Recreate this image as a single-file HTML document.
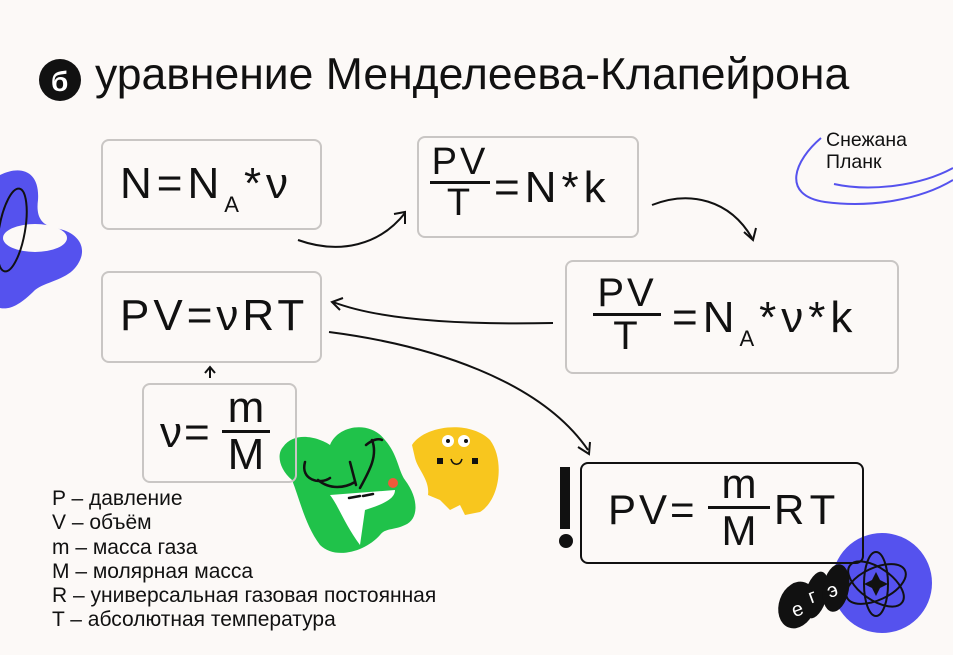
<!DOCTYPE html>
<html><head><meta charset="utf-8"><style>
body{margin:0;background:#fcf9f7;}
#c{position:relative;width:953px;height:655px;overflow:hidden;background:#fcf9f7;font-family:"Liberation Sans","DejaVu Sans",sans-serif;color:#111;}
.b{position:absolute;border:2.5px solid #c9c6c4;border-radius:8px;box-sizing:border-box;}
.t{position:absolute;white-space:nowrap;}
.f{position:absolute;white-space:nowrap;text-align:center;}
.f div:first-child{border-bottom:3px solid #111;}
sub{font-size:22px;vertical-align:-14px;}
</style></head><body><div id="c">
<svg width="953" height="655" style="position:absolute;left:0;top:0">
<path d="M0,175 C20,165 40,170 38,200 C36,215 40,225 55,228 C80,232 90,250 75,268 C65,280 45,282 35,290 C20,305 10,310 0,308 Z" fill="#5552ee"/>
<ellipse cx="35" cy="238" rx="32" ry="14" fill="#fcf9f7"/>
<ellipse cx="12" cy="230" rx="13" ry="42" fill="none" stroke="#111" stroke-width="2" transform="rotate(10 12 230)"/>
<g fill="none" stroke="#5552ee" stroke-width="2">
<path d="M821,138 C795,160 780,195 825,202 C870,208 920,200 953,180"/>
<path d="M834,184 C870,192 920,186 953,168"/>
</g>
<g fill="none" stroke="#111" stroke-width="2">
<path d="M298,240 C340,255 380,245 405,213"/><path d="M394,214 L405,212 L405,224"/>
<path d="M652,205 C690,190 730,200 752,238"/><path d="M744,232 L753,240 L756,228"/>
<path d="M553,323 C460,325 380,320 333,302"/><path d="M343,298 L332,302 L340,310"/>
<path d="M329,332 C430,345 540,380 588,450"/><path d="M578,447 L589,454 L590,442"/>
<path d="M210,378 L210,368"/><path d="M205,373 L210,367 L215,373"/>
</g>
<rect x="560" y="467" width="10" height="62" fill="#111"/>
<circle cx="566" cy="541" r="7" fill="#111"/>
<path d="M283,447 C295,430 320,438 330,445 C338,425 370,420 385,440 C398,455 398,470 405,480 C420,500 418,520 405,525 C395,530 385,528 380,535 C365,552 335,560 320,545 C305,525 300,500 292,480 C280,470 276,455 283,447 Z" fill="#20c24a"/>
<path d="M330,495 L395,490 C395,500 380,505 365,510 L360,545 C345,525 338,505 330,495 Z" fill="#fff"/>
<g fill="none" stroke="#111" stroke-width="2.5" stroke-linecap="round">
<path d="M305,462 C300,480 320,485 330,478"/><path d="M318,480 C330,490 345,488 355,482"/>
<path d="M350,462 L356,485"/><path d="M372,440 C378,455 370,470 360,488"/><path d="M366,445 C372,440 378,438 382,440"/>
<path d="M349,498 L360,496"/><path d="M363,496 L373,494"/></g>
<circle cx="393" cy="483" r="5" fill="#ee5a3a"/>
<path d="M412,445 C425,425 470,420 490,440 C505,460 500,500 480,512 L465,515 L460,505 L450,510 L440,500 L428,495 C430,480 418,470 415,458 Z" fill="#f8c61e"/>
<circle cx="448" cy="441" r="6" fill="#fff"/><circle cx="464" cy="441" r="6" fill="#fff"/>
<circle cx="448" cy="441" r="2" fill="#111"/><circle cx="466" cy="441" r="2" fill="#111"/>
<rect x="437" y="458" width="6" height="6" fill="#111"/><rect x="472" y="458" width="6" height="6" fill="#111"/>
<path d="M451,459 C453,466 460,466 462,459" fill="none" stroke="#111" stroke-width="1.5"/>
<circle cx="882" cy="583" r="50" fill="#5552ee"/>
<g fill="none" stroke="#111" stroke-width="2"><ellipse cx="876" cy="584" rx="32" ry="16" transform="rotate(-25 876 584)"/><ellipse cx="876" cy="584" rx="32" ry="16" transform="rotate(35 876 584)"/><ellipse cx="876" cy="584" rx="12" ry="32"/></g>
<path d="M876,572 L880,580 L888,584 L880,588 L876,596 L872,588 L864,584 L872,580 Z" fill="#111"/>
<ellipse cx="797" cy="605" rx="18" ry="24" fill="#111" transform="rotate(20 797 605)"/>
<ellipse cx="816" cy="595" rx="11" ry="24" fill="#111" transform="rotate(15 816 595)"/>
<ellipse cx="836" cy="588" rx="13" ry="24" fill="#111" transform="rotate(10 836 588)"/>
<text x="792" y="616" fill="#fff" font-size="20" font-family="Liberation Sans" transform="rotate(-20 797 610)">е</text>
<text x="810" y="602" fill="#fff" font-size="20" font-family="Liberation Sans" transform="rotate(-20 815 600)">г</text>
<text x="828" y="596" fill="#fff" font-size="20" font-family="Liberation Sans" transform="rotate(-20 835 592)">э</text>
<circle cx="60" cy="80" r="21" fill="#111"/>
<text x="51" y="91" fill="#fff" font-size="28" font-weight="bold" font-family="Liberation Sans">б</text>
</svg>
<div class="t" style="left:95px;top:50px;font-size:44.5px;">уравнение Менделеева-Клапейрона</div>
<div class="t" style="left:826px;top:129px;font-size:19.5px;line-height:22px;">Снежана<br>Планк</div>

<div class="b" style="left:101px;top:139px;width:221px;height:91px;"></div>
<div class="t" style="left:120px;top:159px;font-size:44px;letter-spacing:5px;">N=N<sub>A</sub>*ν</div>

<div class="b" style="left:417px;top:136px;width:222px;height:102px;"></div>
<div class="f" style="left:430px;top:143px;width:60px;font-size:38px;line-height:38px;letter-spacing:3px;"><div>PV</div><div>T</div></div>
<div class="t" style="left:494px;top:163px;font-size:44px;letter-spacing:5px;">=N*k</div>

<div class="b" style="left:565px;top:260px;width:334px;height:114px;"></div>
<div class="f" style="left:593px;top:273px;width:68px;font-size:40px;line-height:40px;letter-spacing:3px;"><div>PV</div><div>T</div></div>
<div class="t" style="left:672px;top:293px;font-size:44px;letter-spacing:5px;">=N<sub>A</sub>*ν*k</div>

<div class="b" style="left:101px;top:271px;width:221px;height:92px;"></div>
<div class="t" style="left:120px;top:291px;font-size:44px;letter-spacing:4px;">PV=νRT</div>

<div class="b" style="left:142px;top:383px;width:155px;height:100px;"></div>
<div class="t" style="left:160px;top:408px;font-size:44px;letter-spacing:2px;">ν=</div>
<div class="f" style="left:222px;top:386px;width:48px;font-size:44px;line-height:44px;"><div>m</div><div>M</div></div>

<div class="b" style="left:580px;top:462px;width:284px;height:102px;border-color:#111;"></div>
<div class="t" style="left:608px;top:486px;font-size:42px;letter-spacing:3px;">PV=</div>
<div class="f" style="left:708px;top:462px;width:62px;font-size:42px;line-height:44px;"><div>m</div><div>M</div></div>
<div class="t" style="left:774px;top:486px;font-size:42px;letter-spacing:6px;">RT</div>

<div class="t" style="left:52px;top:487px;font-size:21px;line-height:24.3px;">P – давление<br>V – объём<br>m – масса газа<br>M – молярная масса<br>R – универсальная газовая постоянная<br>T – абсолютная температура</div>
</div></body></html>
